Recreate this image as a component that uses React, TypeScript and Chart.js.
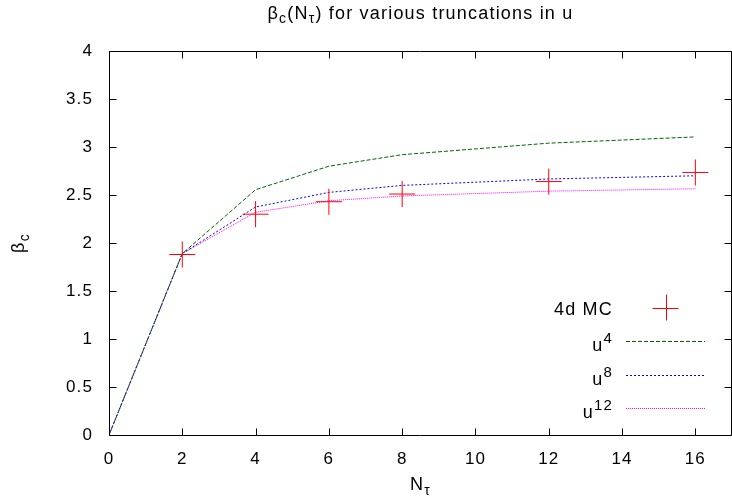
import React, { useEffect, useRef } from 'react';
import { Chart, registerables } from 'chart.js';

Chart.register(...registerables);

// ---- data ----
const nMC = [2, 4, 6, 8, 12, 16];
const betaMC = [1.88, 2.30, 2.43, 2.51, 2.64, 2.735];

const nTheory = [0, 2, 4, 6, 8, 12, 16];
const betaU4 = [0, 1.89, 2.555, 2.8, 2.92, 3.04, 3.105];
const betaU8 = [0, 1.89, 2.375, 2.527, 2.6, 2.667, 2.7];
const betaU12 = [0, 1.89, 2.32, 2.44, 2.49, 2.54, 2.565];

const xTickValues = [0, 2, 4, 6, 8, 10, 12, 14, 16];
const yTickValues = [0, 0.5, 1, 1.5, 2, 2.5, 3, 3.5, 4];

const FONT = "'Liberation Sans', Arial, sans-serif";
const SPACING = '1.2px';

type Part = { t: string; s: number; dy?: number };

function richWidth(ctx: CanvasRenderingContext2D, parts: Part[]) {
  let w = 0;
  for (const p of parts) {
    ctx.font = `${p.s}px ${FONT}`;
    w += ctx.measureText(p.t).width;
  }
  return w;
}

function drawRich(
  ctx: CanvasRenderingContext2D,
  x: number,
  y: number,
  parts: Part[],
  align: 'left' | 'center' | 'right'
) {
  (ctx as any).letterSpacing = SPACING;
  const w = richWidth(ctx, parts);
  let cx = align === 'left' ? x : align === 'center' ? x - w / 2 : x - w;
  ctx.textAlign = 'left';
  ctx.textBaseline = 'alphabetic';
  ctx.fillStyle = '#000';
  for (const p of parts) {
    ctx.font = `${p.s}px ${FONT}`;
    ctx.fillText(p.t, cx, y + (p.dy || 0));
    cx += ctx.measureText(p.t).width;
  }
}

const framePlugin = {
  id: 'gnuframe',
  beforeDraw(chart: any) {
    (chart.ctx as any).letterSpacing = '1.1px';
  },
  afterDraw(chart: any) {
    const ctx: CanvasRenderingContext2D = chart.ctx;
    const { left, right, top, bottom } = chart.chartArea;
    const xs = chart.scales.x;
    const ys = chart.scales.y;
    ctx.save();
    ctx.strokeStyle = '#000';
    ctx.lineWidth = 1;
    ctx.setLineDash([]);
    ctx.beginPath();
    const L = Math.round(left) + 0.5;
    const R = Math.round(right) - 0.5;
    const T = Math.round(top) + 0.5;
    const B = Math.round(bottom) + 0.5;
    ctx.moveTo(L, T);
    ctx.lineTo(R, T);
    ctx.lineTo(R, B);
    ctx.lineTo(L, B);
    ctx.closePath();
    const tl = 7;
    for (const v of xTickValues) {
      const px = Math.round(xs.getPixelForValue(v)) + 0.5;
      ctx.moveTo(px, B);
      ctx.lineTo(px, B - tl);
      ctx.moveTo(px, T);
      ctx.lineTo(px, T + tl);
    }
    for (const v of yTickValues) {
      const py = Math.round(ys.getPixelForValue(v)) + 0.5;
      ctx.moveTo(L, py);
      ctx.lineTo(L + tl, py);
      ctx.moveTo(R, py);
      ctx.lineTo(R - tl, py);
    }
    ctx.stroke();

    // title
    const cxm = (left + right) / 2;
    drawRich(ctx, cxm, 19, [
      { t: 'β', s: 18 },
      { t: 'c', s: 14, dy: 4 },
      { t: '(N', s: 18 },
      { t: 'τ', s: 14, dy: 4 },
      { t: ') for various truncations in u', s: 18 },
    ], 'center');

    // x title
    drawRich(ctx, cxm, 490, [
      { t: 'N', s: 18 },
      { t: 'τ', s: 14, dy: 5 },
    ], 'center');

    // y title (rotated)
    ctx.save();
    ctx.translate(24, 243);
    ctx.rotate(-Math.PI / 2);
    drawRich(ctx, 0, 0, [
      { t: 'β', s: 18 },
      { t: 'c', s: 14, dy: 5 },
    ], 'center');
    ctx.restore();

    // legend
    const textRight = 613;
    const sx0 = 626;
    const sx1 = 705;
    const rows = [307.5, 341, 375, 408];
    drawRich(ctx, textRight, rows[0] + 7, [{ t: '4d MC', s: 18 }], 'right');
    ctx.strokeStyle = '#ff0000';
    ctx.setLineDash([]);
    ctx.lineWidth = 1;
    ctx.beginPath();
    const mcx = (sx0 + sx1) / 2;
    ctx.moveTo(mcx - 13, Math.round(rows[0]) + 0.5);
    ctx.lineTo(mcx + 13, Math.round(rows[0]) + 0.5);
    ctx.moveTo(Math.round(mcx) + 0.5, rows[0] - 13);
    ctx.lineTo(Math.round(mcx) + 0.5, rows[0] + 13);
    ctx.stroke();

    const labels = ['4', '8', '12'];
    for (let i = 0; i < 3; i++) {
      const ds = chart.data.datasets[i + 1];
      const y = rows[i + 1];
      drawRich(ctx, textRight, y + 10, [
        { t: 'u', s: 18 },
        { t: labels[i], s: 15, dy: -8 },
      ], 'right');
      ctx.strokeStyle = ds.borderColor;
      ctx.lineWidth = ds.borderWidth;
      ctx.setLineDash(ds.borderDash || []);
      ctx.beginPath();
      ctx.moveTo(sx0, Math.round(y) + 0.5);
      ctx.lineTo(sx1, Math.round(y) + 0.5);
      ctx.stroke();
    }
    ctx.restore();
  },
};

function pts(xs: number[], ys: number[]) {
  return xs.map((x, i) => ({ x, y: ys[i] }));
}

export default function App() {
  const ref = useRef<HTMLCanvasElement | null>(null);

  useEffect(() => {
    if (!ref.current) return;
    const chart = new Chart(ref.current, {
      type: 'scatter',
      data: {
        datasets: [
          {
            label: '4d MC',
            data: pts(nMC, betaMC),
            showLine: false,
            pointStyle: 'cross',
            pointRadius: 13,
            pointBorderColor: '#ff0000',
            pointBorderWidth: 1,
            borderColor: '#ff0000',
            backgroundColor: '#ff0000',
            order: 0,
          },
          {
            label: 'u4',
            type: 'line',
            data: pts(nTheory, betaU4),
            borderColor: '#006400',
            borderWidth: 1,
            borderDash: [4, 2],
            pointRadius: 0,
            fill: false,
            tension: 0,
            order: 1,
          },
          {
            label: 'u8',
            type: 'line',
            data: pts(nTheory, betaU8),
            borderColor: '#0000ff',
            borderWidth: 1,
            borderDash: [2, 2],
            pointRadius: 0,
            fill: false,
            tension: 0,
            order: 2,
          },
          {
            label: 'u12',
            type: 'line',
            data: pts(nTheory, betaU12),
            borderColor: '#ff00ff',
            borderWidth: 1,
            borderDash: [1, 1],
            pointRadius: 0,
            fill: false,
            tension: 0,
            order: 3,
          },
        ] as any,
      },
      options: {
        animation: false,
        responsive: false,
        maintainAspectRatio: false,
        devicePixelRatio: 1,
        layout: { autoPadding: false, padding: { left: 0, right: 0, top: 51, bottom: 0 } },
        plugins: {
          legend: { display: false },
          title: { display: false },
          tooltip: { enabled: false },
        },
        scales: {
          x: {
            type: 'linear',
            min: 0,
            max: 17,
            afterFit: (s: any) => {
              s.height = 65;
              s.paddingLeft = 0;
              s.paddingRight = 0;
            },
            afterBuildTicks: (s: any) => { s.ticks = xTickValues.map((v) => ({ value: v })); },
            grid: { display: false, drawTicks: false },
            border: { display: false },
            ticks: {
              padding: 14,
              color: '#000',
              font: { family: FONT, size: 17 },
              maxRotation: 0,
              callback: (v: any) => String(v),
            },
          },
          y: {
            type: 'linear',
            min: 0,
            max: 4,
            afterFit: (s: any) => {
              s.width = 109;
              s.paddingTop = 0;
              s.paddingBottom = 0;
            },
            afterBuildTicks: (s: any) => { s.ticks = yTickValues.map((v) => ({ value: v })); },
            grid: { display: false, drawTicks: false },
            border: { display: false },
            ticks: {
              padding: 16,
              color: '#000',
              font: { family: FONT, size: 17 },
              callback: (v: any) => String(v),
            },
          },
        },
      },
      plugins: [framePlugin],
    });
    return () => chart.destroy();
  }, []);

  return (
    <div style={{ position: 'fixed', left: 0, top: 0, width: 732, height: 500, overflow: 'hidden', background: '#fff' }}>
      <canvas ref={ref} width={732} height={500} style={{ display: 'block', width: 732, height: 500 }} />
    </div>
  );
}
